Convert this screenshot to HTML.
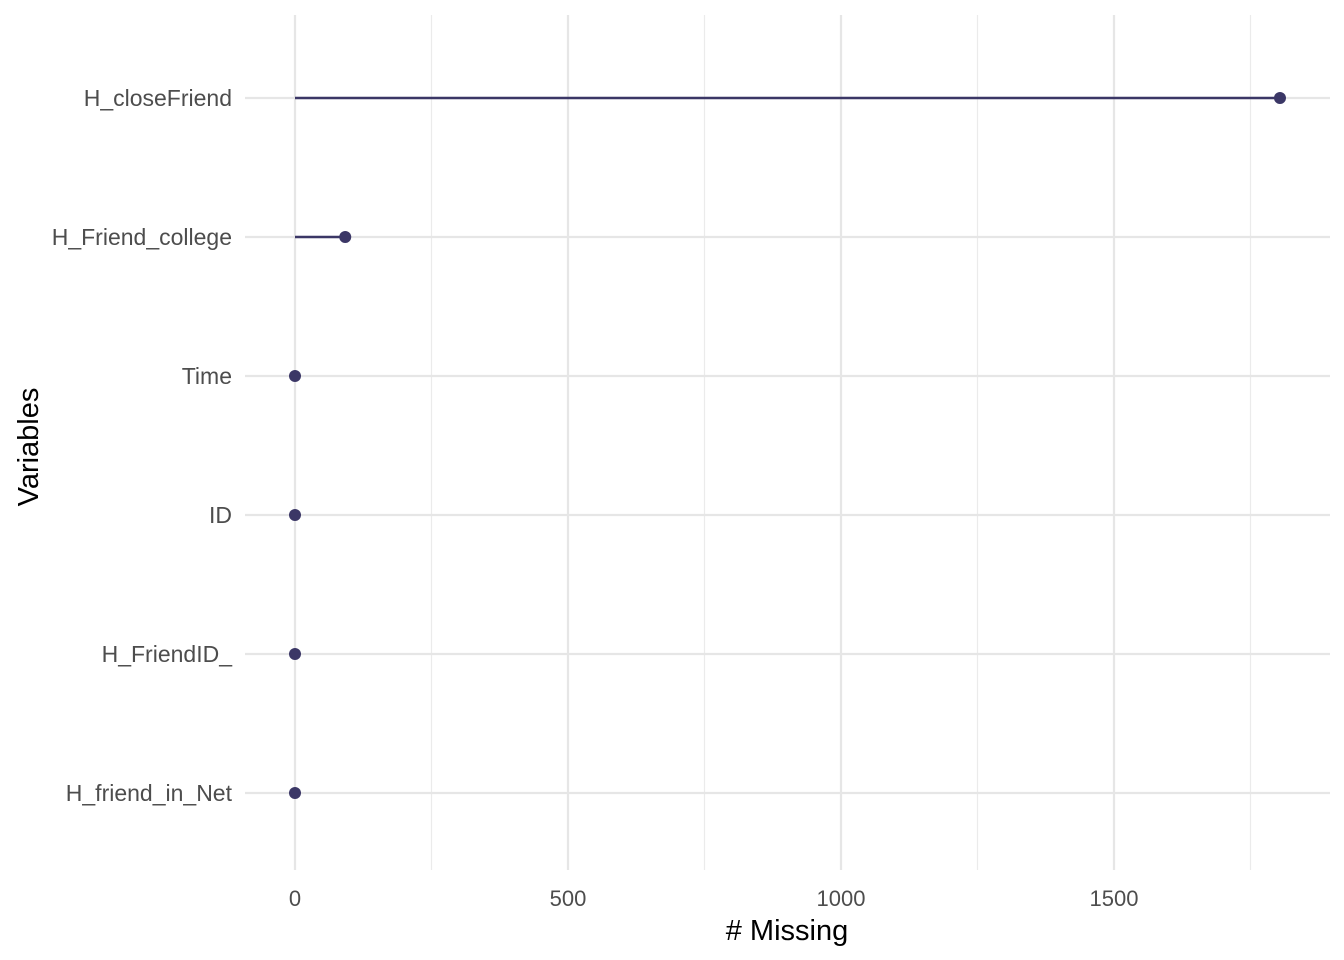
<!DOCTYPE html>
<html><head><meta charset="utf-8"><style>
html,body{margin:0;padding:0;background:#fff;}
svg{display:block;font-family:"Liberation Sans",Arial,sans-serif;}
</style></head><body>
<svg id="chart" width="1344" height="960" viewBox="0 0 1344 960">
<g id="grid"></g>
<g id="marks"></g>
<g id="yaxis"></g>
<g id="xaxis"></g>
<text x="787" y="940" font-size="29" text-anchor="middle" fill="#000"># Missing</text>
<text transform="translate(38,447) rotate(-90)" font-size="29" text-anchor="middle" fill="#000">Variables</text>
</svg>
<script>
const categories = ["H_closeFriend","H_Friend_college","Time","ID","H_FriendID_","H_friend_in_Net"];
const missing = [1804, 92, 0, 0, 0, 0];
const xTicks = [0, 500, 1000, 1500];
const xMinor = [250, 750, 1250, 1750];
const NS="http://www.w3.org/2000/svg";
const x0=295, pxPer=0.546, yTop=98, yStep=139;
const px=v=>x0+v*pxPer;
const py=i=>yTop+i*yStep;
function mk(tag,attrs,parent){const e=document.createElementNS(NS,tag);for(const k in attrs)e.setAttribute(k,attrs[k]);parent.appendChild(e);return e;}
const grid=document.getElementById('grid'),marks=document.getElementById('marks'),ya=document.getElementById('yaxis'),xa=document.getElementById('xaxis');
xMinor.forEach(v=>{const l=mk('line',{x1:px(v),x2:px(v),y1:15,y2:870,stroke:'#ebebeb','stroke-width':1.2},grid);

});
xTicks.forEach(v=>{const l=mk('line',{x1:px(v),x2:px(v),y1:15,y2:870,stroke:'#e6e6e6','stroke-width':2.2},grid);


const t=mk('text',{x:px(v),y:906,'font-size':22,'text-anchor':'middle',fill:'#4d4d4d'},xa);t.textContent=v;

});
categories.forEach((c,i)=>{const l=mk('line',{x1:245,x2:1330,y1:py(i),y2:py(i),stroke:'#e6e6e6','stroke-width':2.2},grid);


const t=mk('text',{x:232,y:py(i)+8,'font-size':23,'text-anchor':'end',fill:'#4d4d4d'},ya);t.textContent=c;


const s=mk('line',{x1:px(0),x2:px(missing[i]),y1:py(i),y2:py(i),stroke:'#3b3766','stroke-width':2.5},marks);


const d=mk('circle',{cx:px(missing[i]),cy:py(i),r:6,fill:'#3b3766'},marks);

});
</script>
</body></html>
